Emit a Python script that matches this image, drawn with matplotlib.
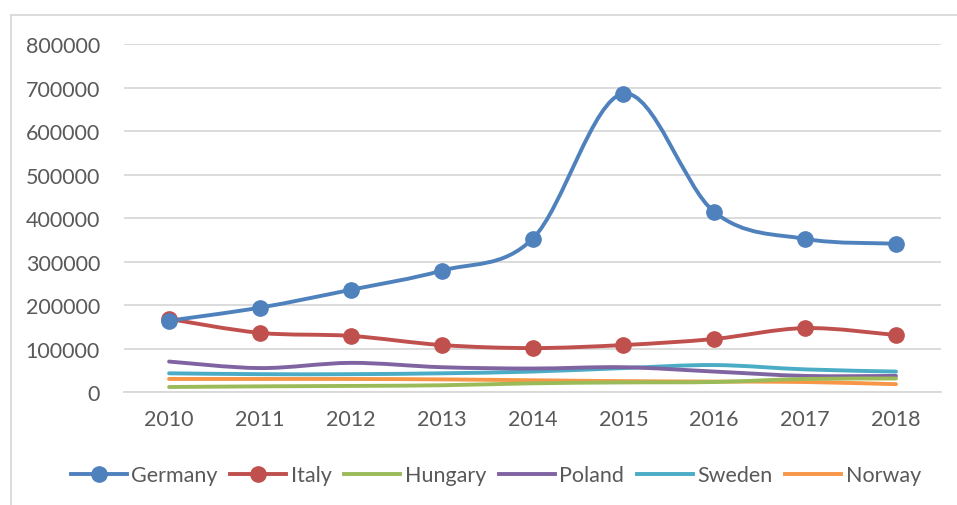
import numpy as np
import matplotlib
matplotlib.use("Agg")
import matplotlib.pyplot as plt
from matplotlib.path import Path
from matplotlib.patches import PathPatch
from matplotlib.lines import Line2D

years = [2010, 2011, 2012, 2013, 2014, 2015, 2016, 2017, 2018]
germany = [164000, 194000, 235000, 279000, 352000, 686000, 414000, 352000, 341000]
italy = [168000, 136000, 129000, 108000, 101000, 108000, 122000, 147000, 131000]
hungary = [11500, 13000, 14000, 15500, 20000, 22000, 23000, 30000, 31000]
poland = [70000, 55000, 67000, 57000, 54000, 57000, 47000, 37000, 37000]
sweden = [43000, 41000, 41000, 43000, 47000, 55000, 62000, 52000, 47000]
norway = [30000, 30000, 30000, 29000, 27000, 25000, 24000, 23000, 18000]

# draw order: back to front
series = [
    ("Norway", norway, "#F79646", False),
    ("Sweden", sweden, "#4BACC6", False),
    ("Poland", poland, "#8064A2", False),
    ("Hungary", hungary, "#9BBB59", False),
    ("Italy", italy, "#C0504D", True),
    ("Germany", germany, "#4F81BD", True),
]
legend_order = ["Germany", "Italy", "Hungary", "Poland", "Sweden", "Norway"]

plt.rcParams['font.family'] = ['Lato', 'DejaVu Sans']
text_color = '#595959'


def smooth_path(x, y):
    # Excel-like smoothed line: cubic bezier segments through the points
    x = np.asarray(x, float)
    y = np.asarray(y, float)
    n = len(x)
    verts = [(x[0], y[0])]
    codes = [Path.MOVETO]
    for i in range(n - 1):
        p0 = (x[max(i - 1, 0)], y[max(i - 1, 0)])
        p1 = (x[i], y[i])
        p2 = (x[i + 1], y[i + 1])
        p3 = (x[min(i + 2, n - 1)], y[min(i + 2, n - 1)])
        c1 = (p1[0] + (p2[0] - p0[0]) / 6, p1[1] + (p2[1] - p0[1]) / 6)
        c2 = (p2[0] - (p3[0] - p1[0]) / 6, p2[1] - (p3[1] - p1[1]) / 6)
        verts += [c1, c2, p2]
        codes += [Path.CURVE4] * 3
    return Path(verts, codes)


fig = plt.figure(figsize=(9.57, 5.06), dpi=100)
ax = fig.add_axes([0.1292, 0.2233, 0.8545, 0.6877])

idx = np.arange(len(years))
handles = {}
for name, vals, color, marker in series:
    patch = PathPatch(smooth_path(idx, vals), facecolor='none', edgecolor=color,
                      linewidth=2.8, capstyle='round', joinstyle='round', zorder=3)
    ax.add_patch(patch)
    if marker:
        ax.plot(idx, vals, linestyle='none', marker='o', markersize=11,
                color=color, zorder=4)
    handles[name] = Line2D([], [], color=color, linewidth=2.8,
                           marker='o' if marker else None, markersize=11)

ax.set_xlim(-0.5, len(years) - 0.5)
ax.set_ylim(0, 800000)
ax.set_yticks(np.arange(0, 800001, 100000))
ax.set_xticks(idx)
ax.set_xticklabels([str(y) for y in years])
ax.grid(axis='y', color='#d9d9d9', linewidth=1.3)
ax.set_axisbelow(True)
for s in ax.spines.values():
    s.set_visible(False)
ax.spines['bottom'].set_visible(True)
ax.spines['bottom'].set_color('#d9d9d9')
ax.spines['bottom'].set_linewidth(1.3)
ax.tick_params(length=0, labelsize=15.5, colors=text_color)
ax.tick_params(axis='y', pad=17)
ax.tick_params(axis='x', pad=12)

leg = fig.legend([handles[n] for n in legend_order], legend_order,
                 loc='center', bbox_to_anchor=(0.518, 0.059), ncol=6,
                 frameon=False, fontsize=15.5, handlelength=2.6,
                 handletextpad=0.2, columnspacing=0.6)
for t in leg.get_texts():
    t.set_color(text_color)

# chart area border (top and left visible)
fig.add_artist(Line2D([11 / 957, 11 / 957], [0, 1 - 16 / 506], color='#d9d9d9', linewidth=1.3))
fig.add_artist(Line2D([11 / 957, 1], [1 - 16 / 506, 1 - 16 / 506], color='#d9d9d9', linewidth=1.3))

fig.savefig('out.png', dpi=100)
